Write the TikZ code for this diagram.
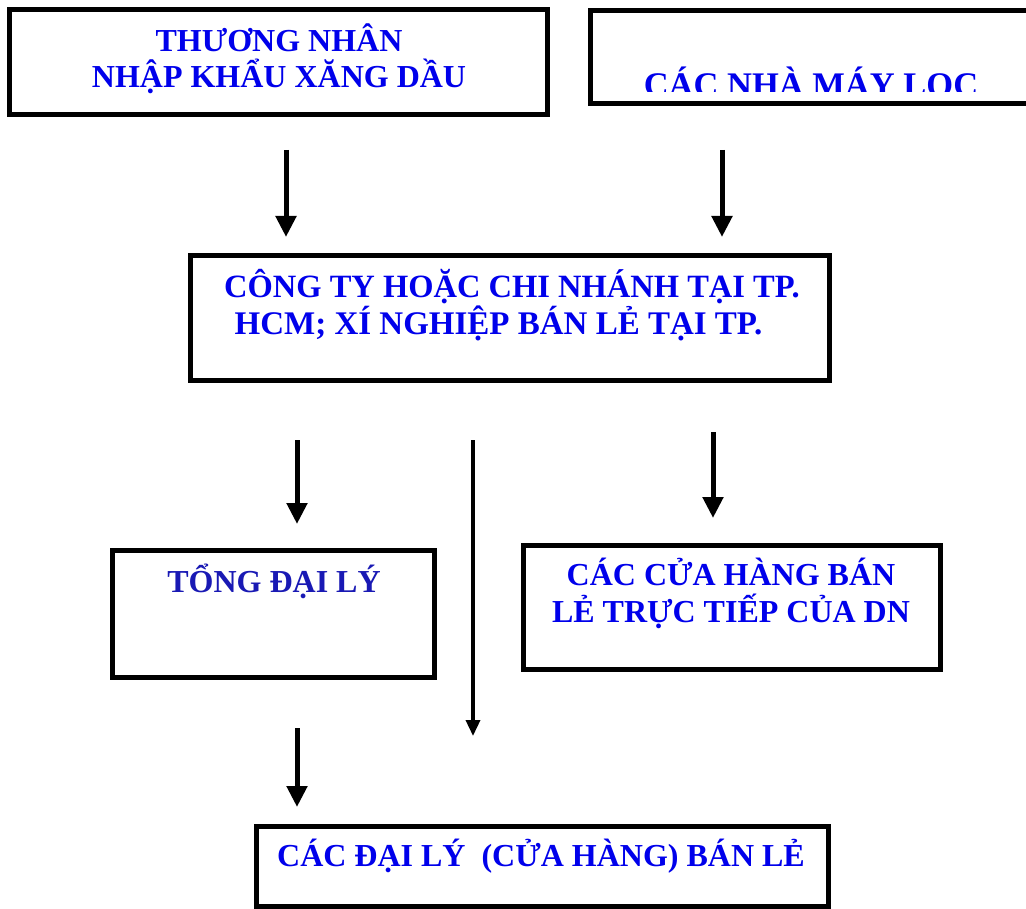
\documentclass[tikz,border=0pt]{standalone}
\usepackage{fontspec}
\setmainfont{Liberation Serif}
\usetikzlibrary{arrows.meta}
\definecolor{txtblue}{RGB}{0,0,235}
\definecolor{txtnavy}{RGB}{25,25,180}
\tikzset{
  box/.style={draw=black, line width=5pt, fill=white},
  lbl/.style={anchor=base, inner sep=0pt, text=txtblue, font=\fontsize{32}{36}\selectfont\bfseries},
  flow/.style={line width=5pt, -{Triangle[width=20pt,length=21pt]}},
  thinflow/.style={line width=3.5pt, -{Triangle[width=14pt,length=16pt]}}
}
\begin{document}
\begin{tikzpicture}[x=1pt,y=-1pt]
\useasboundingbox (0,0) rectangle (1026,909);
\clip (0,0) rectangle (1026,909);
% boxes
\draw[box] (9.5,9.5) rectangle (547.5,114.5);
\draw[box] (590.5,10.5) rectangle (1040,103.5);
\draw[box] (190,256) rectangle (829,381);
\draw[box] (112,550) rectangle (434,677);
\draw[box] (523,545) rectangle (940,669);
\draw[box] (256,826) rectangle (828,906);
% texts
\node[lbl] (t1a) at (279,52) {THƯƠNG NHÂN};
\node[lbl] (t1b) at (279,88) {NHẬP KHẨU XĂNG DẦU};
\begin{scope}
\clip (600,20) rectangle (1020,92);
\node[lbl, font=\fontsize{34.5}{38}\selectfont\bfseries] (t2) at (811,97) {CÁC NHÀ MÁY LỌC};
\end{scope}
\node[lbl, font=\fontsize{32.5}{36}\selectfont\bfseries] (t3a) at (512,298) {CÔNG TY HOẶC CHI NHÁNH TẠI TP.};
\node[lbl, font=\fontsize{33}{36}\selectfont\bfseries] (t3b) at (498.5,335) {HCM; XÍ NGHIỆP BÁN LẺ TẠI TP.};
\node[lbl, text=txtnavy] (t4) at (274,592) {TỔNG ĐẠI LÝ};
\node[lbl] (t5a) at (731,585) {CÁC CỬA HÀNG BÁN};
\node[lbl] (t5b) at (731,622) {LẺ TRỰC TIẾP CỦA DN};
\node[lbl] (t6) at (541,866) {CÁC ĐẠI LÝ\ \ (CỬA HÀNG) BÁN LẺ};
% arrow end points
\coordinate (a1s) at (286,150); \coordinate (a1e) at (286,237);
\coordinate (a2s) at (722,150); \coordinate (a2e) at (722,237);
\coordinate (a3s) at (297,440); \coordinate (a3e) at (297,524);
\coordinate (a4s) at (473,440); \coordinate (a4e) at (473,736);
\coordinate (a5s) at (713,432); \coordinate (a5e) at (713,518);
\coordinate (a6s) at (297,728); \coordinate (a6e) at (297,807);
\draw[flow] (a1s) -- (a1e);
\draw[flow] (a2s) -- (a2e);
\draw[flow] (a3s) -- (a3e);
\draw[thinflow] (a4s) -- (a4e);
\draw[flow] (a5s) -- (a5e);
\draw[flow] (a6s) -- (a6e);
\end{tikzpicture}
\end{document}
